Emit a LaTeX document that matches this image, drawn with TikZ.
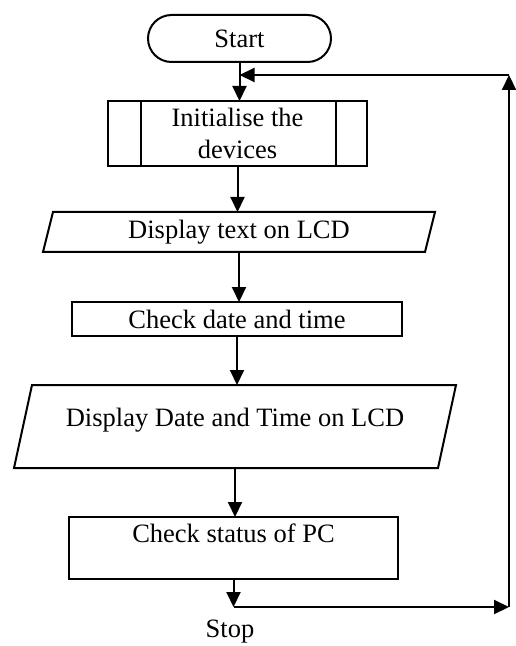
\documentclass[tikz,border=0pt]{standalone}
\usepackage{fontspec}
\setmainfont{Liberation Serif}
\usetikzlibrary{arrows.meta,calc}
\begin{document}
\begin{tikzpicture}[x=0.5pt,y=-0.5pt,
  line width=1pt,
  every node/.style={inner sep=0pt,outer sep=0pt,font=\fontsize{13.25}{16}\selectfont},
  boxnode/.style={draw,rectangle,minimum width=#1},
  arr/.style={-{Triangle[length=7.5pt,width=7pt]}},
  ]
\useasboundingbox (0,0) rectangle (515,646);
% Start
\node[draw,rounded corners=11.75pt,minimum width=91.5pt,minimum height=23.5pt] (start) at (239.5,38.5) {Start};
% Initialise
\node[draw,minimum width=129.5pt,minimum height=32.5pt,align=center] (init) at (237.5,133.5) {Initialise the\\devices};
\draw ([xshift=16.5pt]init.north west) -- ([xshift=16.5pt]init.south west);
\draw ([xshift=-15.5pt]init.north east) -- ([xshift=-15.5pt]init.south east);
% Display text on LCD
\node[minimum width=196pt,minimum height=20pt] (dt) at (239,232) {Display text on LCD};
\draw ([xshift=5pt]dt.north west) -- (dt.north east) -- ([xshift=-5pt]dt.south east) -- (dt.south west) -- cycle;
% Check date and time
\node[draw,minimum width=165pt,minimum height=17pt] (cd) at (237,319) {Check date and time};
% Display Date and Time on LCD
\node[minimum width=221pt,minimum height=41.5pt] (dd) at (235,426.5) {};
\draw ([xshift=9pt]dd.north west) -- (dd.north east) -- ([xshift=-9pt]dd.south east) -- (dd.south west) -- cycle;
\node (ddt) at (235,420) {Display Date and Time on LCD};
% Check status of PC
\node[draw,minimum width=164.5pt,minimum height=31pt] (cs) at (233.5,548) {};
\node (cst) at (233.5,533) {Check status of PC};
% Stop
\node (stop) at (230,632) {Stop};
% loop coordinates
\coordinate (c2) at (509,607);
\coordinate (c3) at (509,75);
\coordinate (c1) at (cs.south |- c2);
% connectors
\draw[arr] (start.south) -- (start.south |- init.north);
\draw[arr] (init.south) -- (init.south |- dt.north);
\draw[arr] (dt.south) -- (dt.south |- cd.north);
\draw[arr] (cd.south) -- (cd.south |- dd.north);
\draw[arr] (dd.south) -- (dd.south |- cs.north);
\draw[arr] (cs.south) -- (c1);
\draw[arr] (c1) -- (c2);
\draw[arr] (c2) -- (c3);
\draw[arr] (c3) -- (start.south |- c3);
\end{tikzpicture}
\end{document}
